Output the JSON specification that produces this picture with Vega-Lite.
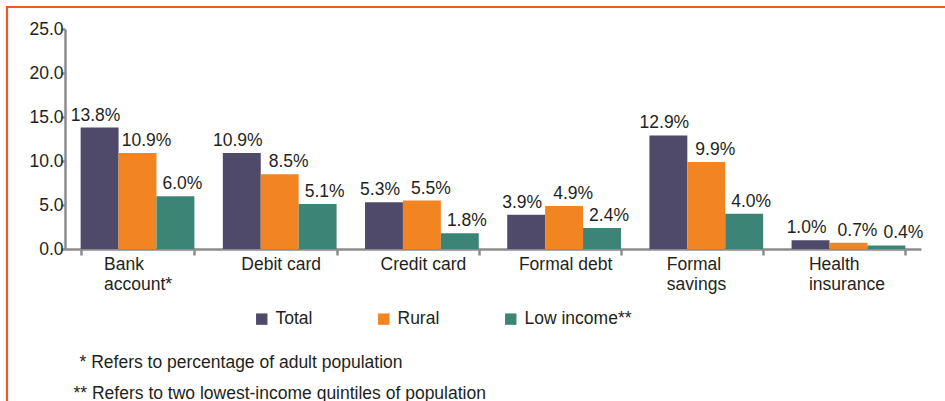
{
  "$schema": "https://vega.github.io/schema/vega-lite/v6.json",
  "width": 945,
  "height": 420,
  "autosize": {"type": "none"},
  "padding": {"left": 7, "top": 7, "right": 0, "bottom": 0},
  "background": "white",
  "config": {
    "font": "Liberation Sans",
    "view": {"stroke": "#EE5A24", "strokeWidth": 2.2},
    "axis": {
      "domainColor": "#8c8c8c",
      "tickColor": "#8c8c8c",
      "domainWidth": 2.5,
      "tickWidth": 2.5,
      "labelColor": "#231f20",
      "labelFont": "Liberation Sans",
      "labelFontSize": 17.5,
      "grid": false,
      "titleColor": "#231f20",
      "titleFont": "Liberation Sans",
      "titleFontWeight": "normal",
      "titleFontSize": 17.5
    },
    "legend": {
      "labelFont": "Liberation Sans",
      "labelFontSize": 17.5,
      "labelColor": "#231f20"
    }
  },
  "data": {
    "values": [
      {"category": "Bank account*", "series": "Total", "value": 13.8},
      {"category": "Bank account*", "series": "Rural", "value": 10.9},
      {"category": "Bank account*", "series": "Low income**", "value": 6.0},
      {"category": "Debit card", "series": "Total", "value": 10.9},
      {"category": "Debit card", "series": "Rural", "value": 8.5},
      {"category": "Debit card", "series": "Low income**", "value": 5.1},
      {"category": "Credit card", "series": "Total", "value": 5.3},
      {"category": "Credit card", "series": "Rural", "value": 5.5},
      {"category": "Credit card", "series": "Low income**", "value": 1.8},
      {"category": "Formal debt", "series": "Total", "value": 3.9},
      {"category": "Formal debt", "series": "Rural", "value": 4.9},
      {"category": "Formal debt", "series": "Low income**", "value": 2.4},
      {"category": "Formal savings", "series": "Total", "value": 12.9},
      {"category": "Formal savings", "series": "Rural", "value": 9.9},
      {"category": "Formal savings", "series": "Low income**", "value": 4.0},
      {"category": "Health insurance", "series": "Total", "value": 1.0},
      {"category": "Health insurance", "series": "Rural", "value": 0.7},
      {"category": "Health insurance", "series": "Low income**", "value": 0.4}
    ]
  },
  "encoding": {
    "x": {
      "field": "category",
      "type": "nominal",
      "sort": null,
      "scale": {"range": [58, 914], "paddingInner": 0.2, "paddingOuter": 0.11},
      "axis": {
        "title": "** Refers to two lowest-income quintiles of population",
        "titleX": 66,
        "titleY": 149,
        "titleAlign": "left",
        "titleBaseline": "alphabetic",
        "titleAngle": 0,
        "offset": -178,
        "tickSize": 6,
        "labelPadding": 0,
        "labelAngle": 0,
        "labelLineHeight": 20,
        "tickBand": "extent",
        "labelAlign": {
          "condition": {"test": "datum.value == 'Bank account*' || datum.value == 'Formal savings' || datum.value == 'Health insurance'", "value": "left"},
          "value": "center"
        },
        "labelOffset": {
          "condition": [
            {"test": "datum.value == 'Bank account*'", "value": -34},
            {"test": "datum.value == 'Formal savings' || datum.value == 'Health insurance'", "value": -40}
          ],
          "value": 1
        },
        "labelExpr": "datum.label == 'Bank account*' ? ['Bank', 'account*'] : datum.label == 'Formal savings' ? ['Formal', 'savings'] : datum.label == 'Health insurance' ? ['Health', 'insurance'] : datum.label"
      }
    },
    "xOffset": {"field": "series", "type": "nominal", "sort": ["Total", "Rural", "Low income**"]},
    "y": {
      "field": "value",
      "type": "quantitative",
      "scale": {"domain": [0, 25], "range": [242, 22], "nice": false, "zero": true},
      "axis": {
        "title": "* Refers to percentage of adult population",
        "titleAngle": 0,
        "titleX": 14,
        "titleY": 360,
        "titleAlign": "left",
        "titleBaseline": "alphabetic",
        "offset": -58,
        "values": [0, 5, 10, 15, 20, 25],
        "format": ".1f",
        "tickSize": 4,
        "labelPadding": -2
      }
    }
  },
  "layer": [
    {
      "mark": {"type": "bar"},
      "encoding": {
        "color": {
          "field": "series",
          "type": "nominal",
          "scale": {"domain": ["Total", "Rural", "Low income**"], "range": ["#4f4a69", "#f38422", "#3c8475"]},
          "legend": {
            "orient": "none",
            "legendX": 246,
            "legendY": 303,
            "direction": "horizontal",
            "title": null,
            "symbolType": "square",
            "symbolSize": 130,
            "symbolStrokeWidth": 0,
            "symbolOpacity": 1,
            "labelOffset": 5,
            "columnPadding": 62,
            "padding": 0
          }
        }
      }
    },
    {
      "transform": [{"filter": "datum.series == 'Total'"}],
      "mark": {"type": "text", "baseline": "alphabetic", "dy": -7, "dx": -4, "fontSize": 17.5, "color": "#231f20", "text": {"expr": "format(datum.value, '.1f') + '%'"}}
    },
    {
      "transform": [{"filter": "datum.series == 'Rural'"}],
      "mark": {"type": "text", "baseline": "alphabetic", "dy": -7, "dx": 9, "fontSize": 17.5, "color": "#231f20", "text": {"expr": "format(datum.value, '.1f') + '%'"}}
    },
    {
      "transform": [{"filter": "datum.series == 'Low income**' && datum.category != 'Health insurance'"}],
      "mark": {"type": "text", "baseline": "alphabetic", "dy": -7, "dx": 7, "fontSize": 17.5, "color": "#231f20", "text": {"expr": "format(datum.value, '.1f') + '%'"}}
    },
    {
      "transform": [{"filter": "datum.series == 'Low income**' && datum.category == 'Health insurance'"}],
      "mark": {"type": "text", "baseline": "alphabetic", "dy": -7, "dx": 17, "fontSize": 17.5, "color": "#231f20", "text": {"expr": "format(datum.value, '.1f') + '%'"}}
    }
  ]
}
